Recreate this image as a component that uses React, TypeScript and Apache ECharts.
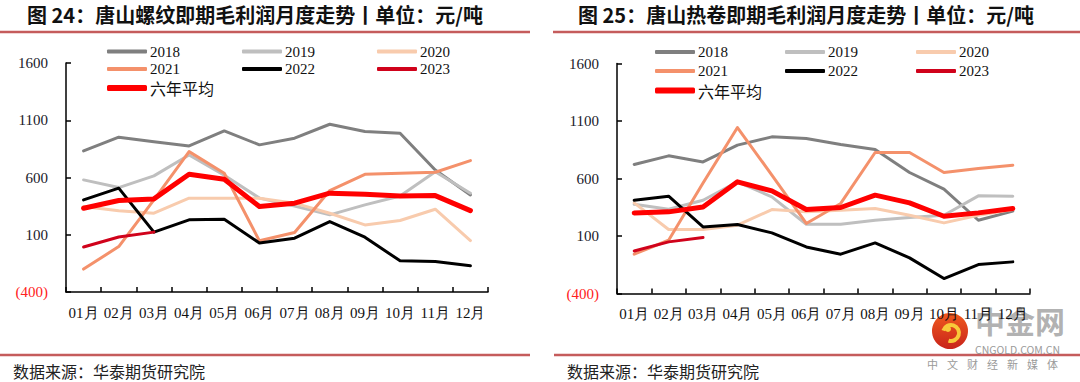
import React, { useEffect, useRef } from 'react';
import * as echarts from 'echarts';

const months = ['01月', '02月', '03月', '04月', '05月', '06月', '07月', '08月', '09月', '10月', '11月', '12月'];
const seriesNames = ['2018', '2019', '2020', '2021', '2022', '2023', '六年平均'];
const seriesColors = ['#7f7f7f', '#bfbfbf', '#f8cbad', '#f4916b', '#000000', '#d0021b', '#ff0000'];
const seriesWidths = [3, 3, 3, 3, 3, 3, 5];

// 图24 唐山螺纹即期毛利润（元/吨）
const rebar2018 = [832, 952, 913, 876, 1007, 885, 943, 1065, 1001, 986, 666, 448];
const rebar2019 = [579, 512, 614, 797, 620, 420, 350, 274, 361, 439, 651, 463];
const rebar2020 = [346, 309, 288, 419, 419, 419, 376, 288, 186, 224, 323, 49];
const rebar2021 = [-200, -3, 405, 826, 637, 47, 120, 486, 628, 637, 646, 748];
const rebar2022 = [404, 507, 123, 230, 236, 27, 70, 215, 79, -128, -134, -171];
const rebar2023 = [-7, 80, 123, null, null, null, null, null, null, null, null, null];
const rebarAvg = [332, 399, 413, 628, 585, 346, 376, 463, 454, 439, 442, 311];

// 图25 唐山热卷即期毛利润（元/吨）
const hrc2018 = [722, 797, 744, 890, 962, 948, 896, 852, 652, 507, 237, 316];
const hrc2019 = [376, 333, 411, 571, 440, 202, 202, 237, 261, 281, 449, 446];
const hrc2020 = [388, 156, 156, 194, 330, 310, 324, 339, 281, 214, 281, 330];
const hrc2021 = [-58, 63, 560, 1043, 630, 209, 383, 826, 826, 652, 687, 716];
const hrc2022 = [411, 446, 179, 200, 127, 5, -58, 40, -90, -270, -148, -125];
const hrc2023 = [-30, 49, 87, null, null, null, null, null, null, null, null, null];
const hrcAvg = [301, 310, 353, 571, 492, 330, 348, 455, 388, 272, 301, 339];

const rebarData = [rebar2018, rebar2019, rebar2020, rebar2021, rebar2022, rebar2023, rebarAvg];
const hrcData = [hrc2018, hrc2019, hrc2020, hrc2021, hrc2022, hrc2023, hrcAvg];

const yMin = -400;
const yMax = 1600;
const yStep = 500;

const watermarkSub = ['中', '文', '财', '经', '新', '媒', '体'];

const serif = 'Liberation Serif, "Times New Roman", serif';
const cjk = '"Noto Sans CJK SC", sans-serif';

function makeLegends(cols: number[], rows: number[]) {
  const out: any[] = [];
  seriesNames.forEach((name, i) => {
    const col = cols[i % 3];
    const row = rows[Math.floor(i / 3)];
    const isAvg = name === '六年平均';
    out.push({
      data: [name],
      left: col,
      top: row - 8,
      padding: 0,
      itemGap: 0,
      itemWidth: 40,
      itemHeight: isAvg ? 6 : 4,
      icon: 'roundRect',
      selectedMode: false,
      textStyle: {
        fontFamily: isAvg ? cjk : serif,
        fontSize: isAvg ? 16 : 15,
        color: '#111',
        padding: [0, 0, 0, -2],
      },
    });
  });
  return out;
}

export default function App() {
  const ref = useRef<HTMLDivElement>(null);
  useEffect(() => {
    document.body.style.margin = '0';
    const chart = echarts.init(ref.current as HTMLDivElement, null, { renderer: 'svg' });

    const yAxisBase = (gridIndex: number) => ({
      type: 'value',
      gridIndex,
      min: yMin,
      max: yMax,
      interval: yStep,
      axisLine: { show: true, lineStyle: { color: '#000', width: 1.5 } },
      axisTick: { show: true, inside: true, length: 5, lineStyle: { color: '#000', width: 1.5 } },
      splitLine: { show: false },
      axisLabel: {
        margin: 18,
        fontFamily: serif,
        fontSize: 15,
        formatter: (v: number) => (v < 0 ? `(${-v})` : `${v}`),
        color: (v: any) => (Number(v) < 0 ? '#ff2020' : '#1a1a2a'),
      },
    });
    const xAxisBase = (gridIndex: number) => ({
      type: 'category',
      gridIndex,
      data: months,
      boundaryGap: true,
      axisLine: { show: true, onZero: false, lineStyle: { color: '#000', width: 1.5 } },
      axisTick: { show: true, inside: true, length: 5, interval: 0, lineStyle: { color: '#000', width: 1.5 } },
      axisLabel: { interval: 0, margin: 13, fontFamily: serif, fontSize: 15, color: '#111' },
      splitLine: { show: false },
    });

    const series: any[] = [];
    [rebarData, hrcData].forEach((set, gi) => {
      set.forEach((arr, i) => {
        series.push({
          type: 'line',
          name: seriesNames[i],
          xAxisIndex: gi,
          yAxisIndex: gi,
          data: arr,
          showSymbol: false,
          symbol: 'none',
          connectNulls: false,
          color: seriesColors[i],
          itemStyle: { color: seriesColors[i] },
          lineStyle: { color: seriesColors[i], width: seriesWidths[i], cap: 'round', join: 'round' },
          z: 2 + i,
        });
      });
    });

    const lineColor = '#c55c5c';
    const option: any = {
      animation: false,
      backgroundColor: '#fff',
      grid: [
        { left: 66, top: 63, width: 422, height: 229 },
        { left: 617, top: 63.5, width: 413, height: 230 },
      ],
      xAxis: [xAxisBase(0), xAxisBase(1)],
      yAxis: [yAxisBase(0), yAxisBase(1)],
      legend: [...makeLegends([107, 242, 377], [52, 69.5, 88]), ...makeLegends([655, 785, 916], [52.5, 71.5, 90.5])],
      series,
      graphic: [
        { type: 'text', left: 27, top: 4, style: { text: '图 24：唐山螺纹即期毛利润月度走势丨单位：元/吨', font: `bold 20px ${cjk}`, fill: '#111' } },
        { type: 'text', left: 578, top: 4, style: { text: '图 25：唐山热卷即期毛利润月度走势丨单位：元/吨', font: `bold 20px ${cjk}`, fill: '#111' } },
        { type: 'line', shape: { x1: 0, y1: 32, x2: 530, y2: 32 }, style: { stroke: lineColor, lineWidth: 2.5 } },
        { type: 'line', shape: { x1: 553, y1: 32, x2: 1080, y2: 32 }, style: { stroke: lineColor, lineWidth: 2.5 } },
        { type: 'line', shape: { x1: 0, y1: 355, x2: 530, y2: 355 }, style: { stroke: lineColor, lineWidth: 2.5 } },
        { type: 'line', shape: { x1: 554, y1: 355, x2: 1080, y2: 355 }, style: { stroke: lineColor, lineWidth: 2.5 } },
        { type: 'text', left: 13, top: 363, style: { text: '数据来源：华泰期货研究院', font: `16px ${cjk}`, fill: '#222' } },
        { type: 'text', left: 567, top: 363, style: { text: '数据来源：华泰期货研究院', font: `16px ${cjk}`, fill: '#222' } },
        // watermark
        {
          type: 'group',
          z: 100,
          children: [
            {
              type: 'circle',
              shape: { cx: 950, cy: 331, r: 18 },
              style: {
                fill: new echarts.graphic.LinearGradient(0, 0, 0, 1, [
                  { offset: 0, color: '#f05a1e' },
                  { offset: 1, color: '#c8241a' },
                ]),
              },
            },
            { type: 'arc', shape: { cx: 951, cy: 333, r: 8, startAngle: -Math.PI * 0.9, endAngle: Math.PI * 0.6 }, style: { stroke: '#f8c93a', lineWidth: 4, fill: 'none' } },
            { type: 'circle', shape: { cx: 948, cy: 329, r: 3 }, style: { fill: '#f8c93a' } },
            { type: 'text', left: 975, top: 305, style: { text: '中金网', font: `bold 30px ${cjk}`, fill: '#a8a8a8', opacity: 0.9 } },
            { type: 'text', left: 975, top: 344, style: { text: 'CNGOLD.COM.CN', font: `10.5px ${cjk}`, fill: '#9a9a9a' } },
            ...watermarkSub.map((ch, i) => ({
              type: 'text',
              left: 927 + i * 20,
              top: 358,
              style: { text: ch, font: `11px ${cjk}`, fill: '#9a9a9a' },
            })),
          ],
        },
      ],
    };
    chart.setOption(option);
    return () => chart.dispose();
  }, []);
  return <div ref={ref} style={{ width: 1080, height: 382 }} />;
}
